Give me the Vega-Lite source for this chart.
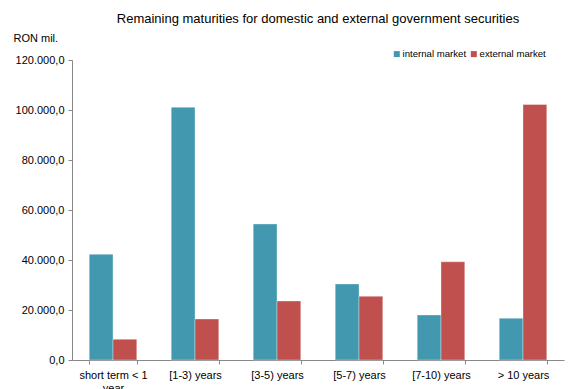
{
  "$schema": "https://vega.github.io/schema/vega-lite/v6.json",
  "width": 492,
  "height": 300,
  "autosize": {"type": "none"},
  "padding": {"left": 72, "top": 60, "right": 7, "bottom": 29},
  "background": "white",
  "config": {
    "font": "Liberation Sans",
    "view": {"stroke": null},
    "locale": {"number": {"decimal": ",", "thousands": ".", "grouping": [3], "currency": ["", ""]}}
  },
  "title": {
    "text": "Remaining maturities for domestic and external government securities",
    "fontSize": 13,
    "fontWeight": "normal",
    "font": "Liberation Sans",
    "color": "#000",
    "anchor": "middle",
    "offset": 6
  },
  "data": {
    "values": [
      {"term": "short term < 1 year", "market": "internal market", "value": 42300},
      {"term": "short term < 1 year", "market": "external market", "value": 8300},
      {"term": "[1-3) years", "market": "internal market", "value": 101100},
      {"term": "[1-3) years", "market": "external market", "value": 16400},
      {"term": "[3-5) years", "market": "internal market", "value": 54400},
      {"term": "[3-5) years", "market": "external market", "value": 23600},
      {"term": "[5-7) years", "market": "internal market", "value": 30400},
      {"term": "[5-7) years", "market": "external market", "value": 25500},
      {"term": "[7-10) years", "market": "internal market", "value": 18000},
      {"term": "[7-10) years", "market": "external market", "value": 39300},
      {"term": "> 10 years", "market": "internal market", "value": 16700},
      {"term": "> 10 years", "market": "external market", "value": 102200}
    ]
  },
  "mark": {"type": "bar", "stroke": "#ffffff", "strokeOpacity": 0.35, "strokeWidth": 1},
  "encoding": {
    "x": {
      "field": "term",
      "type": "nominal",
      "sort": null,
      "scale": {"paddingInner": 0.42, "paddingOuter": 0.21},
      "axis": {
        "title": null,
        "labelAngle": 0,
        "labelFontSize": 11,
        "labelColor": "#000",
        "labelPadding": 5,
        "labelLimit": 200,
        "tickBand": "extent",
        "tickColor": "#888",
        "tickSize": 4,
        "domainColor": "#888",
        "labelExpr": "datum.value == 'short term < 1 year' ? ['short term < 1', 'year'] : datum.value"
      }
    },
    "xOffset": {"field": "market", "type": "nominal", "sort": ["internal market", "external market"]},
    "y": {
      "field": "value",
      "type": "quantitative",
      "scale": {"domain": [0, 120000]},
      "axis": {
        "values": [0, 20000, 40000, 60000, 80000, 100000, 120000],
        "format": ",.1f",
        "grid": false,
        "labelFontSize": 11,
        "labelColor": "#000",
        "labelPadding": 4,
        "tickColor": "#888",
        "tickSize": 4,
        "domainColor": "#888",
        "title": "RON mil.",
        "titleAngle": 0,
        "titleAlign": "left",
        "titleBaseline": "alphabetic",
        "titleX": -59,
        "titleY": -19,
        "titleFontSize": 11,
        "titleFontWeight": "normal",
        "titleColor": "#000"
      }
    },
    "color": {
      "field": "market",
      "type": "nominal",
      "sort": ["internal market", "external market"],
      "scale": {"domain": ["internal market", "external market"], "range": ["#4198AF", "#C0504D"]},
      "legend": {
        "title": null,
        "orient": "none",
        "direction": "horizontal",
        "legendX": 320,
        "legendY": -11,
        "symbolType": "square",
        "symbolSize": 36,
        "symbolStrokeWidth": 0,
        "labelFontSize": 9.6,
        "labelColor": "#000",
        "labelOffset": 1,
        "columnPadding": 2
      }
    }
  }
}
